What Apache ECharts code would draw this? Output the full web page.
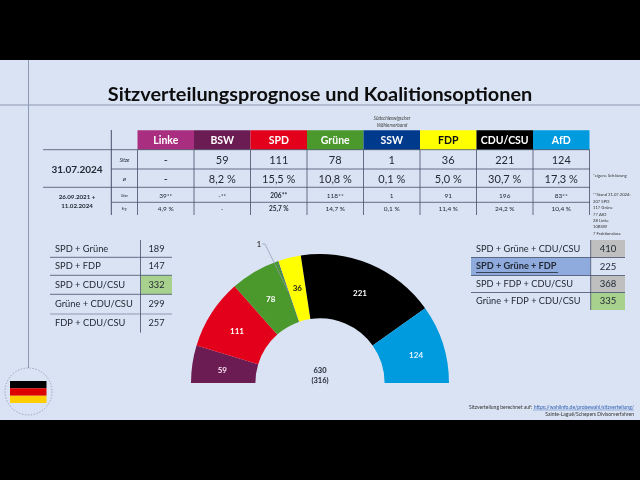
<!DOCTYPE html>
<html><head><meta charset="utf-8">
<style>html,body{margin:0;padding:0;background:#000}#c{width:640px;height:480px}</style>
<script src="https://cdn.jsdelivr.net/npm/echarts@6/dist/echarts.min.js"></script>
</head><body><div id="c"></div>
<script>
const parties = ['Linke','BSW','SPD','Grüne','SSW','FDP','CDU/CSU','AfD'];
const partyColors = ['#a92e7f','#6b1c52','#e3001b','#4b982c','#003a8c','#ffff00','#000000','#009ade'];
const headerText = ['#fff','#fff','#fff','#fff','#fff','#111','#fff','#fff'];
const seatsNow = ['-','59','111','78','1','36','221','124'];
const shareNow = ['-','8,2 %','15,5 %','10,8 %','0,1 %','5,0 %','30,7 %','17,3 %'];
const seats2021 = ['39**','-**','206**','118**','1','91','196','83**'];
const share2021 = ['4,9 %','-','25,7 %','14,7 %','0,1 %','11,4 %','24,2 %','10,4 %'];
const pieNames = ['BSW','SPD','Grüne','SSW','FDP','CDU/CSU','AfD'];
const pieValues = [59,111,78,1,36,221,124];
const pieColors = ['#6b1c52','#e3001b','#4b982c','#003a8c','#ffff00','#000000','#009ade'];
const coalLeft = ['SPD + Grüne','SPD + FDP','SPD + CDU/CSU','Grüne + CDU/CSU','FDP + CDU/CSU'];
const coalLeftSeats = [189,147,332,299,257];
const coalRight = ['SPD + Grüne + CDU/CSU','SPD + Grüne + FDP','SPD + FDP + CDU/CSU','Grüne + FDP + CDU/CSU'];
const coalRightSeats = [410,225,368,335];
const notes = ['**Stand 31.07.2024:','207 SPD','117 Grüne','77 AfD','28 Linke','10BSW','7 Fraktionslose'];

const F = 'Lato, "Open Sans", sans-serif';
const ink = '#222a35', rule = '#44506a', soft = '#8c99b3';
const g = [];
const rect = (x,y,w,h,fill,z=1)=>g.push({type:'rect',shape:{x,y,width:w,height:h},style:{fill},z,silent:true});
const line = (x1,y1,x2,y2,stroke=rule,lw=1,z=3)=>g.push({type:'line',shape:{x1,y1,x2,y2},style:{stroke,lineWidth:lw},z,silent:true});
const text = (x,y,t,size,o={})=>g.push({type:'text',x,y,z:5,silent:true,style:{text:t,fontSize:size,fontFamily:F,fill:o.fill||ink,
  fontWeight:o.w||'normal',fontStyle:o.i?'italic':'normal',align:o.a||'center',verticalAlign:'middle'}});

// slide
rect(0,60,640,360,'#dae3f3',0);
line(28.5,60,28.5,368,soft,1);
line(0,105,640,105,soft,1);
text(320,95,'Sitzverteilungsprognose und Koalitionsoptionen',19.9,{w:'bold',fill:'#0d0d0d'});

// flag
g.push({type:'circle',shape:{cx:28.5,cy:391.5,r:23.5},style:{fill:'transparent',stroke:'#7f8ca8',lineWidth:0.7,lineDash:[1.5,1.5]},z:2,silent:true});
rect(10,381,36.5,7.3,'#000000',3); rect(10,388.3,36.5,7.4,'#dd0000',3); rect(10,395.7,36.5,7.3,'#ffce00',3);

// main table
const x0=137.5, cw=56.5, rows=[149.7,169,187.3,202.3];
parties.forEach((p,i)=>{
  const x=x0+i*cw, cx=x+cw/2;
  rect(x,130.3,cw,19.4,partyColors[i],1);
  text(cx,140.5,p,10.5,{w:'bold',fill:headerText[i]});
  text(cx,160,seatsNow[i],11);
  text(cx,179,shareNow[i],11);
  text(cx,195.5,seats2021[i],6.5,{w:(i===2)?'bold':'normal'});
  text(cx,209,share2021[i],6.5,{w:(i===2)?'bold':'normal'});
});
for(let i=0;i<=8;i++) line(x0+i*cw,150,x0+i*cw,215,rule,0.8);
line(111.3,130,111.3,215,rule,1);
rows.forEach((y,i)=>line(i%2===1?111.3:43,y,590,y,rule,0.8));
text(77,169.5,'31.07.2024',10,{w:'bold'});
text(77,197,'26.09.2021 +',6.2,{w:'bold'});
text(77,206.5,'11.02.2024',6.2,{w:'bold'});
text(124.5,160,'Sitze',5,{i:true});
text(124.5,179,'ø',6.5,{i:true});
text(124.5,195.5,'Sitze',3.5,{i:true});
text(124.5,209,'Erg.',3.5,{i:true});
text(392,118,'Südschleswigscher',4.8,{i:true,fill:'#444'});
text(392,125,'Wählerverband',4.8,{i:true,fill:'#444'});
text(593,176,'*eigene Schätzung',4.2,{a:'left',fill:'#333'});
notes.forEach((n,i)=>text(593,195+i*6.4,n,4.2,{a:'left',fill:'#333'}));

// left coalitions
const ly=[240,257.3,275.3,294.3,314,332.7];
rect(141,275.3,31,19,'#a9d18e',1);
coalLeft.forEach((c,i)=>{
  const my=(ly[i]+ly[i+1])/2;
  text(55,my,c,9.3,{a:'left'});
  text(156.5,my,String(coalLeftSeats[i]),9.3);
  if(i<4) line(50,ly[i+1],172,ly[i+1],i===3?soft:rule,i===3?1.2:0.8);
});
line(140.5,240,140.5,332.7,rule,0.8);

// right coalitions
const ry=[240,257.5,275.5,292.5,310];
const rfill=['#bfbfbf',null,'#bfbfbf','#a9d18e'];
rect(471,257.5,119.5,18,'#8faadc',1);
coalRight.forEach((c,i)=>{
  const my=(ry[i]+ry[i+1])/2, b=i===1;
  if(rfill[i]) rect(590.7,ry[i],34.3,ry[i+1]-ry[i],rfill[i],1);
  text(476,my,c,9.2,{a:'left',w:b?'bold':'normal'});
  text(608,my,String(coalRightSeats[i]),9.5);
  if(i<3) line(471,ry[i+1],625,ry[i+1],rule,0.8);
});
line(476,272.5,558,272.5,ink,0.8);
line(590.7,240,590.7,310,rule,0.8);

// pie centre and leader for the one-seat slice
text(320,371,'630',7.5,{w:'bold'});
text(320,380.7,'(316)',7.5,{w:'bold'});
g.push({type:'polyline',shape:{points:[[262,244],[265,244],[288.5,292]]},style:{fill:'none',stroke:soft,lineWidth:0.7},z:10,silent:true});

// source
g.push({type:'text',x:634,y:407,z:5,silent:true,style:{text:'https://wahlinfo.de/probewahl/sitzverteilung/',fontSize:5,fontFamily:F,fill:'#2f5fb3',align:'right',verticalAlign:'middle'}});
text(532,407,'Sitzverteilung berechnet auf:',5,{a:'right',fill:'#333'});
text(634,414,'Sainte-Laguë/Schepers Divisorverfahren',5,{a:'right',fill:'#333'});
line(533,410,634,410,'#2f5fb3',0.4);

const labelColors = ['#fbe3f5','#fff','#fff','#444','#222','#fff','#e8f6ff'];
const chart = echarts.init(document.getElementById('c'),null,{renderer:'canvas'});
chart.setOption({
  animation:false,
  backgroundColor:'#000',
  graphic:{elements:g},
  series:[{
    type:'pie',center:[320,383],radius:[64.6,129],startAngle:180,endAngle:0,clockwise:true,
    silent:true,avoidLabelOverlap:false,z:4,
    data:pieNames.map((n,i)=>({name:n,value:pieValues[i],itemStyle:{color:pieColors[i]},
      label:{show:true,position:i===3?'outside':'inside',color:labelColors[i],fontSize:i===3?7.5:8,fontWeight:'bold',fontFamily:F,formatter:'{c}'},
      labelLine:{show:false}
    })),
    labelLayout:(p)=> p.dataIndex===3 ? {x:259,y:245,align:'center',verticalAlign:'middle'} : {dx:1,dy:2.5}
  }]
});
</script></body></html>
